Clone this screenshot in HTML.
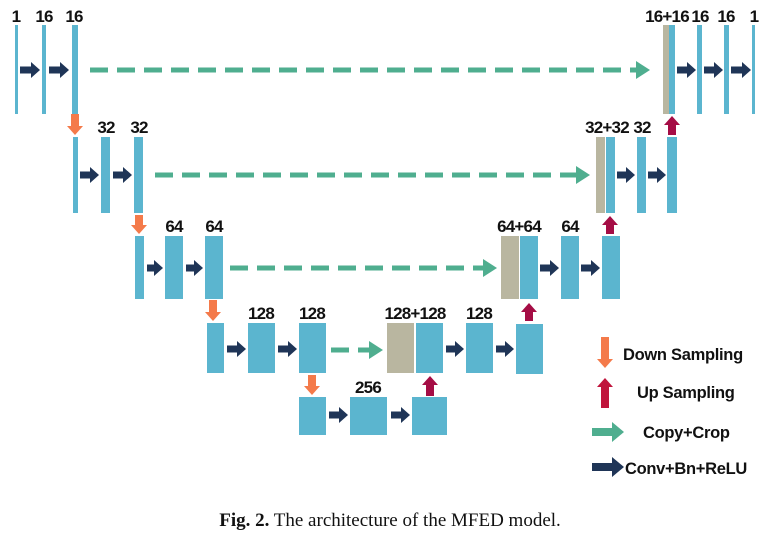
<!DOCTYPE html>
<html><head><meta charset="utf-8"><style>
html,body{margin:0;padding:0;background:#fff;}
svg{display:block;}
.lbl{font-family:"Liberation Sans",sans-serif;font-weight:bold;font-size:17px;fill:#111;letter-spacing:-0.8px;}
.leg{font-family:"Liberation Sans",sans-serif;font-weight:bold;font-size:16.5px;fill:#111;letter-spacing:-0.3px;}
.cap{font-family:"Liberation Serif",serif;font-size:19px;fill:#111;}
</style></head><body>
<svg id="d" width="780" height="537" viewBox="0 0 780 537">
<text class="cap" x="390" y="526" text-anchor="middle"><tspan font-weight="bold">Fig. 2.</tspan>  The architecture of the MFED model.</text>
</svg>
<script>
const NS="http://www.w3.org/2000/svg";
const svg=document.getElementById('d');
const BLUE="#5bb5cf",GRAY="#b9b6a0",NAVY="#1f3557",GREEN="#4fae8f",ORANGE="#f47a4a",RED="#a50d45";
const blocks=[
[15,18,25,114,BLUE],[42,46,25,114,BLUE],[72,78,25,114,BLUE],
[663,669,25,114,GRAY],[669,675,25,114,BLUE],[697,702,25,114,BLUE],[724,729,25,114,BLUE],[752,755,25,114,BLUE],
[73,78,137,213,BLUE],[101,110,137,213,BLUE],[134,143,137,213,BLUE],
[596,605,137,213,GRAY],[606,615,137,213,BLUE],[637,646,137,213,BLUE],[667,677,137,213,BLUE],
[135,144,236,299,BLUE],[165,183,236,299,BLUE],[205,223,236,299,BLUE],
[501,519,236,299,GRAY],[520,538,236,299,BLUE],[561,579,236,299,BLUE],[602,620,236,299,BLUE],
[207,224,323,373,BLUE],[248,275,323,373,BLUE],[299,326,323,373,BLUE],
[387,414,323,373,GRAY],[416,443,323,373,BLUE],[466,493,323,373,BLUE],[516,543,324,374,BLUE],
[299,326,397,435,BLUE],[350,387,397,435,BLUE],[412,447,397,435,BLUE]
];
const labels=[["1",16,22],["16",44,22],["16",74,22],["16+16",667,22],["16",700,22],["16",726,22],["1",754,22],
["32",106,133],["32",139,133],["32+32",607,133],["32",642,133],
["64",174,232],["64",214,232],["64+64",519,232],["64",570,232],
["128",261,319],["128",312,319],["128+128",415,319],["128",479,319],["256",368,393]];
const conv=[[20,40,70],[49,69,70],[677,696,70],[704,723,70],[731,751,70],
[80,99,175],[113,132,175],[617,635,175],[648,666,175],
[147,163,268],[186,203,268],[540,559,268],[581,600,268],
[227,246,349],[278,297,349],[446,464,349],[496,514,349],
[329,348,415],[391,410,415],[592,624,467]];
const copies=[[90,650,70],[155,590,175],[230,497,268],[331,383,350]];
const downs=[[75,114,135],[139,215,234],[213,300,321],[312,375,395],[605,337,368]];
const ups=[[672,135,116],[610,234,216],[529,321,303],[430,396,376],[605,408,378]];
function add(tag,attrs){const e=document.createElementNS(NS,tag);for(const k in attrs)e.setAttribute(k,attrs[k]);svg.appendChild(e);return e;}
blocks.forEach((b,i)=>{const e=add('rect',{x:b[0],y:b[2],width:b[1]-b[0],height:b[3]-b[2],fill:b[4]});

});
labels.forEach(l=>{const e=add('text',{x:l[1],y:l[2],'text-anchor':'middle',class:'lbl'});e.textContent=l[0];

});
function harrow(x1,x2,y,c,sw,hh,hl){return `${x1},${y-sw} ${x2-hl},${y-sw} ${x2-hl},${y-hh} ${x2},${y} ${x2-hl},${y+hh} ${x2-hl},${y+sw} ${x1},${y+sw}`;}
conv.forEach((a,i)=>{const big=i===conv.length-1;const e=add('polygon',{points:harrow(a[0],a[1],a[2],NAVY,big?4:3.5,big?10:8,big?12:9),fill:NAVY});

});
copies.forEach(a=>{const hl=14;
const l=add('line',{x1:a[0],y1:a[2],x2:a[1]-hl,y2:a[2],stroke:GREEN,'stroke-width':5,'stroke-dasharray':'18,9'});


const h=add('polygon',{points:`${a[1]-hl},${a[2]-9} ${a[1]},${a[2]} ${a[1]-hl},${a[2]+9}`,fill:GREEN});

});
function varrow(x,y1,y2,sw,hh){const d=y2>y1?1:-1;const hb=y2-d*9;return `${x-sw},${y1} ${x+sw},${y1} ${x+sw},${hb} ${x+hh},${hb} ${x},${y2} ${x-hh},${hb} ${x-sw},${hb}`;}
downs.forEach(a=>{const e=add('polygon',{points:varrow(a[0],a[1],a[2],4,8),fill:ORANGE});

});
ups.forEach((a,i)=>{const e=add('polygon',{points:varrow(a[0],a[1],a[2],4,8),fill:i===4?"#c0143c":RED});

});
const lg=add('polygon',{points:harrow(592,624,432,GREEN,4,10,12),fill:GREEN});


const legs=[["Down Sampling",623,360],["Up Sampling",637,398],["Copy+Crop",643,438],["Conv+Bn+ReLU",625,474]];
legs.forEach(l=>{const e=add('text',{x:l[1],y:l[2],class:'leg'});e.textContent=l[0];

});
</script>
</body></html>
